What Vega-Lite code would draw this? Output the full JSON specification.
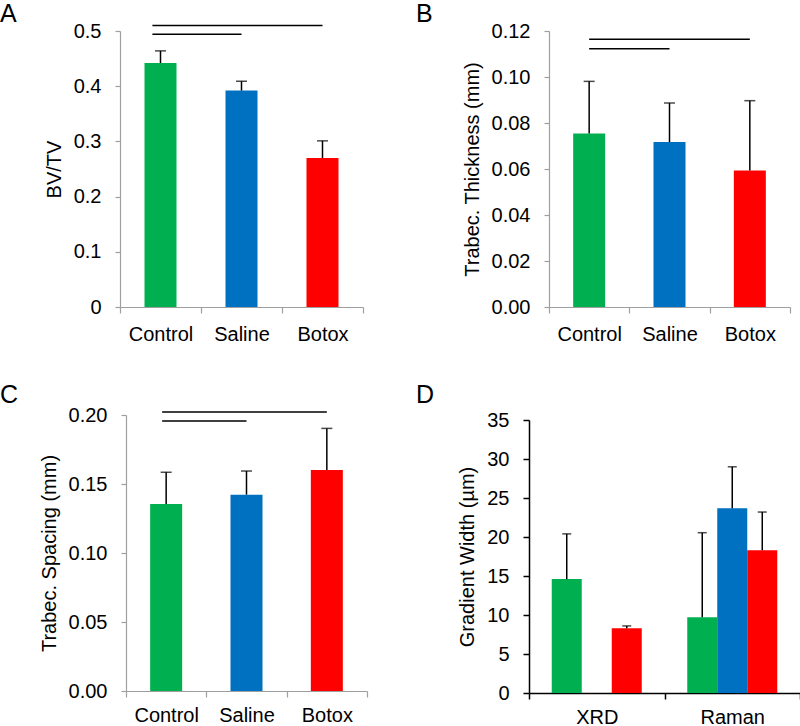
{
  "$schema": "https://vega.github.io/schema/vega-lite/v6.json",
  "padding": {"left": 0, "top": 2, "right": 0, "bottom": 0},
  "columns": 2,
  "align": "none",
  "spacing": {"row": 39, "column": 48},
  "config": {
    "view": {"stroke": null},
    "font": "Liberation Sans",
    "axis": {"labelFont": "Liberation Sans", "titleFont": "Liberation Sans", "labelFontSize": 20, "titleFontSize": 20, "titleFontWeight": "normal", "labelColor": "black", "titleColor": "black", "grid": false, "labelOverlap": false},
    "title": {"font": "Liberation Sans", "fontSize": 25, "fontWeight": "normal", "anchor": "start", "frame": "group", "color": "black"}
  },
  "datasets": {
    "A": [
      {"group": "Control", "mean": 0.442, "upper": 0.464},
      {"group": "Saline", "mean": 0.392, "upper": 0.409},
      {"group": "Botox", "mean": 0.270, "upper": 0.301}
    ],
    "sigA": [
      {"from": "Control", "to": "Botox", "y": 0.510},
      {"from": "Control", "to": "Saline", "y": 0.494}
    ],
    "B": [
      {"group": "Control", "mean": 0.0754, "upper": 0.0981},
      {"group": "Saline", "mean": 0.0717, "upper": 0.0887},
      {"group": "Botox", "mean": 0.0594, "upper": 0.0897}
    ],
    "sigB": [
      {"from": "Control", "to": "Botox", "y": 0.1164},
      {"from": "Control", "to": "Saline", "y": 0.1123}
    ],
    "C": [
      {"group": "Control", "mean": 0.1355, "upper": 0.1585},
      {"group": "Saline", "mean": 0.1423, "upper": 0.1594},
      {"group": "Botox", "mean": 0.1601, "upper": 0.1903}
    ],
    "sigC": [
      {"from": "Control", "to": "Botox", "y": 0.2022},
      {"from": "Control", "to": "Saline", "y": 0.1957}
    ],
    "D": [
      {"method": "XRD", "group": "Control", "mean": 14.6, "upper": 20.4},
      {"method": "XRD", "group": "Botox", "mean": 8.3, "upper": 8.6},
      {"method": "Raman", "group": "Control", "mean": 9.7, "upper": 20.55},
      {"method": "Raman", "group": "Saline", "mean": 23.7, "upper": 29.0},
      {"method": "Raman", "group": "Botox", "mean": 18.3, "upper": 23.2}
    ]
  },
  "concat": [
    {
      "width": 243, "height": 276,
      "title": {"text": "A", "dx": -120, "offset": -6},
      "data": {"name": "A"},
      "layer": [
        {
          "mark": {"type": "bar", "width": 32},
          "encoding": {
            "x": {"field": "group", "type": "nominal", "title": null,
              "scale": {"domain": ["Control", "Saline", "Botox"], "paddingInner": 0, "paddingOuter": 0},
              "axis": {"labelAngle": 0, "tickBand": "extent", "domainColor": "#9f9f9f", "tickColor": "#9f9f9f", "tickSize": 6, "labelPadding": 11, "domainWidth": 1.2, "tickWidth": 1.2}},
            "y": {"field": "mean", "type": "quantitative", "title": "BV/TV",
              "scale": {"domain": [0, 0.5], "nice": false},
              "axis": {"values": [0, 0.1, 0.2, 0.3, 0.4, 0.5], "tickCount": 6, "format": "~g", "labelOverlap": false, "domainColor": "#9f9f9f", "tickColor": "#9f9f9f", "tickSize": 5, "labelPadding": 14, "titlePadding": 9, "domainWidth": 1.2, "tickWidth": 1.2}},
            "color": {"field": "group", "type": "nominal", "scale": {"domain": ["Control", "Saline", "Botox"], "range": ["#00b050", "#0070c0", "#ff0000"]}, "legend": null}
          }
        },
        {
          "mark": {"type": "rule", "color": "black", "strokeWidth": 1.5},
          "encoding": {
            "x": {"field": "group", "type": "nominal", "title": null},
            "y": {"field": "mean", "type": "quantitative", "title": "BV/TV",
              "axis": {"values": [0, 0.1, 0.2, 0.3, 0.4, 0.5], "tickCount": 6, "format": "~g", "labelOverlap": false, "domainColor": "#9f9f9f", "tickColor": "#9f9f9f", "tickSize": 5, "labelPadding": 14, "titlePadding": 9, "domainWidth": 1.2, "tickWidth": 1.2}},
            "y2": {"field": "upper"}
          }
        },
        {
          "mark": {"type": "tick", "color": "black", "size": 11, "thickness": 1.5},
          "encoding": {
            "x": {"field": "group", "type": "nominal", "title": null},
            "y": {"field": "upper", "type": "quantitative", "title": "BV/TV",
              "axis": {"values": [0, 0.1, 0.2, 0.3, 0.4, 0.5], "tickCount": 6, "format": "~g", "labelOverlap": false, "domainColor": "#9f9f9f", "tickColor": "#9f9f9f", "tickSize": 5, "labelPadding": 14, "titlePadding": 9, "domainWidth": 1.2, "tickWidth": 1.2}}
          }
        },
        {
          "data": {"name": "sigA"},
          "mark": {"type": "rule", "color": "black", "strokeWidth": 1.5, "clip": false},
          "encoding": {
            "x": {"field": "from", "type": "nominal", "title": null, "bandPosition": 0.4},
            "x2": {"field": "to", "bandPosition": 0.5},
            "y": {"field": "y", "type": "quantitative", "title": "BV/TV",
              "axis": {"values": [0, 0.1, 0.2, 0.3, 0.4, 0.5], "tickCount": 6, "format": "~g", "labelOverlap": false, "domainColor": "#9f9f9f", "tickColor": "#9f9f9f", "tickSize": 5, "labelPadding": 14, "titlePadding": 9, "domainWidth": 1.2, "tickWidth": 1.2}}
          }
        }
      ]
    },
    {
      "width": 241, "height": 276,
      "title": {"text": "B", "dx": -133, "offset": -6},
      "data": {"name": "B"},
      "layer": [
        {
          "mark": {"type": "bar", "width": 32},
          "encoding": {
            "x": {"field": "group", "type": "nominal", "title": null,
              "scale": {"domain": ["Control", "Saline", "Botox"], "paddingInner": 0, "paddingOuter": 0},
              "axis": {"labelAngle": 0, "tickBand": "extent", "domainColor": "#9f9f9f", "tickColor": "#9f9f9f", "tickSize": 6, "labelPadding": 11, "domainWidth": 1.2, "tickWidth": 1.2}},
            "y": {"field": "mean", "type": "quantitative", "title": "Trabec. Thickness (mm)",
              "scale": {"domain": [0, 0.12], "nice": false},
              "axis": {"values": [0, 0.02, 0.04, 0.06, 0.08, 0.1, 0.12], "tickCount": 7, "format": ".2f", "labelOverlap": false, "domainColor": "#9f9f9f", "tickColor": "#9f9f9f", "tickSize": 5, "labelPadding": 14, "titlePadding": 9, "domainWidth": 1.2, "tickWidth": 1.2}},
            "color": {"field": "group", "type": "nominal", "scale": {"domain": ["Control", "Saline", "Botox"], "range": ["#00b050", "#0070c0", "#ff0000"]}, "legend": null}
          }
        },
        {
          "mark": {"type": "rule", "color": "black", "strokeWidth": 1.5},
          "encoding": {
            "x": {"field": "group", "type": "nominal", "title": null},
            "y": {"field": "mean", "type": "quantitative", "title": "Trabec. Thickness (mm)",
              "axis": {"values": [0, 0.02, 0.04, 0.06, 0.08, 0.1, 0.12], "tickCount": 7, "format": ".2f", "labelOverlap": false, "domainColor": "#9f9f9f", "tickColor": "#9f9f9f", "tickSize": 5, "labelPadding": 14, "titlePadding": 9, "domainWidth": 1.2, "tickWidth": 1.2}},
            "y2": {"field": "upper"}
          }
        },
        {
          "mark": {"type": "tick", "color": "black", "size": 11, "thickness": 1.5},
          "encoding": {
            "x": {"field": "group", "type": "nominal", "title": null},
            "y": {"field": "upper", "type": "quantitative", "title": "Trabec. Thickness (mm)",
              "axis": {"values": [0, 0.02, 0.04, 0.06, 0.08, 0.1, 0.12], "tickCount": 7, "format": ".2f", "labelOverlap": false, "domainColor": "#9f9f9f", "tickColor": "#9f9f9f", "tickSize": 5, "labelPadding": 14, "titlePadding": 9, "domainWidth": 1.2, "tickWidth": 1.2}}
          }
        },
        {
          "data": {"name": "sigB"},
          "mark": {"type": "rule", "color": "black", "strokeWidth": 1.5, "clip": false},
          "encoding": {
            "x": {"field": "from", "type": "nominal", "title": null, "bandPosition": 0.5},
            "x2": {"field": "to", "bandPosition": 0.5},
            "y": {"field": "y", "type": "quantitative", "title": "Trabec. Thickness (mm)",
              "axis": {"values": [0, 0.02, 0.04, 0.06, 0.08, 0.1, 0.12], "tickCount": 7, "format": ".2f", "labelOverlap": false, "domainColor": "#9f9f9f", "tickColor": "#9f9f9f", "tickSize": 5, "labelPadding": 14, "titlePadding": 9, "domainWidth": 1.2, "tickWidth": 1.2}}
          }
        }
      ]
    },
    {
      "width": 247, "height": 276,
      "title": {"text": "C", "dx": -120, "offset": -3},
      "data": {"name": "C"},
      "layer": [
        {
          "mark": {"type": "bar", "width": 32},
          "encoding": {
            "x": {"field": "group", "type": "nominal", "title": null,
              "scale": {"domain": ["Control", "Saline", "Botox"], "paddingInner": 0, "paddingOuter": 0, "range": [6, 247]},
              "axis": {"labelAngle": 0, "tickBand": "extent", "domainColor": "#9f9f9f", "tickColor": "#9f9f9f", "tickSize": 6, "labelPadding": 8, "domainWidth": 1.2, "tickWidth": 1.2}},
            "y": {"field": "mean", "type": "quantitative", "title": "Trabec. Spacing (mm)",
              "scale": {"domain": [0, 0.2], "nice": false},
              "axis": {"values": [0, 0.05, 0.1, 0.15, 0.2], "tickCount": 5, "format": ".2f", "offset": -6, "labelOverlap": false, "domainColor": "#9f9f9f", "tickColor": "#9f9f9f", "tickSize": 5, "labelPadding": 14, "titlePadding": 9, "domainWidth": 1.2, "tickWidth": 1.2}},
            "color": {"field": "group", "type": "nominal", "scale": {"domain": ["Control", "Saline", "Botox"], "range": ["#00b050", "#0070c0", "#ff0000"]}, "legend": null}
          }
        },
        {
          "mark": {"type": "rule", "color": "black", "strokeWidth": 1.5},
          "encoding": {
            "x": {"field": "group", "type": "nominal", "title": null},
            "y": {"field": "mean", "type": "quantitative", "title": "Trabec. Spacing (mm)",
              "axis": {"values": [0, 0.05, 0.1, 0.15, 0.2], "tickCount": 5, "format": ".2f", "offset": -6, "labelOverlap": false, "domainColor": "#9f9f9f", "tickColor": "#9f9f9f", "tickSize": 5, "labelPadding": 14, "titlePadding": 9, "domainWidth": 1.2, "tickWidth": 1.2}},
            "y2": {"field": "upper"}
          }
        },
        {
          "mark": {"type": "tick", "color": "black", "size": 11, "thickness": 1.5},
          "encoding": {
            "x": {"field": "group", "type": "nominal", "title": null},
            "y": {"field": "upper", "type": "quantitative", "title": "Trabec. Spacing (mm)",
              "axis": {"values": [0, 0.05, 0.1, 0.15, 0.2], "tickCount": 5, "format": ".2f", "offset": -6, "labelOverlap": false, "domainColor": "#9f9f9f", "tickColor": "#9f9f9f", "tickSize": 5, "labelPadding": 14, "titlePadding": 9, "domainWidth": 1.2, "tickWidth": 1.2}}
          }
        },
        {
          "data": {"name": "sigC"},
          "mark": {"type": "rule", "color": "black", "strokeWidth": 1.5, "clip": false},
          "encoding": {
            "x": {"field": "from", "type": "nominal", "title": null, "bandPosition": 0.45},
            "x2": {"field": "to", "bandPosition": 0.5},
            "y": {"field": "y", "type": "quantitative", "title": "Trabec. Spacing (mm)",
              "axis": {"values": [0, 0.05, 0.1, 0.15, 0.2], "tickCount": 5, "format": ".2f", "offset": -6, "labelOverlap": false, "domainColor": "#9f9f9f", "tickColor": "#9f9f9f", "tickSize": 5, "labelPadding": 14, "titlePadding": 9, "domainWidth": 1.2, "tickWidth": 1.2}}
          }
        }
      ]
    },
    {
      "width": 271, "height": 273,
      "title": {"text": "D", "dx": -113, "offset": 2},
      "data": {"name": "D"},
      "layer": [
        {
          "mark": {"type": "bar"},
          "encoding": {
            "x": {"field": "method", "type": "nominal", "title": null,
              "scale": {"domain": ["XRD", "Raman"], "paddingInner": 0, "paddingOuter": 0},
              "axis": {"labelAngle": 0, "tickBand": "extent", "domainColor": "black", "tickColor": "black", "tickSize": 6, "labelPadding": 8, "domainWidth": 1.5, "tickWidth": 1.5}},
            "xOffset": {"field": "group", "type": "nominal", "scale": {"domain": ["Control", "Saline", "Botox"], "paddingInner": 0, "paddingOuter": 0.758}},
            "y": {"field": "mean", "type": "quantitative", "title": "Gradient Width (µm)",
              "scale": {"domain": [0, 35], "nice": false},
              "axis": {"values": [0, 5, 10, 15, 20, 25, 30, 35], "tickCount": 8, "labelOverlap": false, "domainColor": "black", "tickColor": "black", "tickSize": 6, "labelPadding": 14, "titlePadding": 9, "domainWidth": 1.5, "tickWidth": 1.5}},
            "color": {"field": "group", "type": "nominal", "scale": {"domain": ["Control", "Saline", "Botox"], "range": ["#00b050", "#0070c0", "#ff0000"]}, "legend": null}
          }
        },
        {
          "mark": {"type": "rule", "color": "black", "strokeWidth": 1.5},
          "encoding": {
            "x": {"field": "method", "type": "nominal", "title": null},
            "xOffset": {"field": "group", "type": "nominal"},
            "y": {"field": "mean", "type": "quantitative", "title": "Gradient Width (µm)",
              "axis": {"values": [0, 5, 10, 15, 20, 25, 30, 35], "tickCount": 8, "labelOverlap": false, "domainColor": "black", "tickColor": "black", "tickSize": 6, "labelPadding": 14, "titlePadding": 9, "domainWidth": 1.5, "tickWidth": 1.5}},
            "y2": {"field": "upper"}
          }
        },
        {
          "mark": {"type": "tick", "color": "black", "size": 9, "thickness": 1.5},
          "encoding": {
            "x": {"field": "method", "type": "nominal", "title": null},
            "xOffset": {"field": "group", "type": "nominal"},
            "y": {"field": "upper", "type": "quantitative", "title": "Gradient Width (µm)",
              "axis": {"values": [0, 5, 10, 15, 20, 25, 30, 35], "tickCount": 8, "labelOverlap": false, "domainColor": "black", "tickColor": "black", "tickSize": 6, "labelPadding": 14, "titlePadding": 9, "domainWidth": 1.5, "tickWidth": 1.5}}
          }
        }
      ]
    }
  ]
}
